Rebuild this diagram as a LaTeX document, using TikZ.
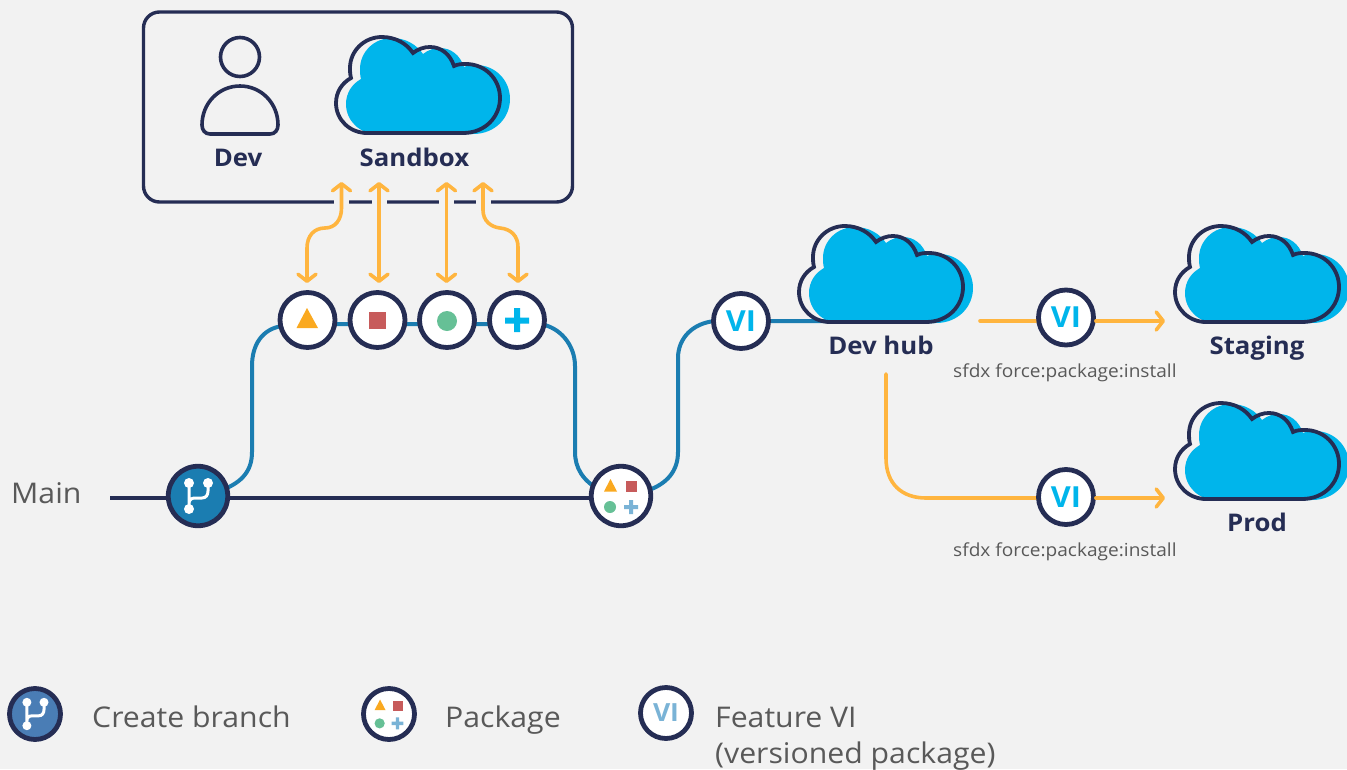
\documentclass[tikz,border=0pt]{standalone}
\usepackage{fontspec}
\setmainfont{Open Sans}[FakeStretch=1.06]
\usetikzlibrary{backgrounds,arrows.meta,shapes.geometric}
\definecolor{bgc}{HTML}{F2F2F2}
\definecolor{navy}{HTML}{252D54}
\definecolor{bluel}{HTML}{1B7DB1}
\definecolor{orangel}{HTML}{FFB53F}
\definecolor{cyanf}{HTML}{00B5EB}
\definecolor{tri}{HTML}{FAA920}
\definecolor{redq}{HTML}{C75B5B}
\definecolor{greenq}{HTML}{66C096}
\definecolor{lblue}{HTML}{7AB3D6}
\definecolor{legblue}{HTML}{4A7DB5}
\definecolor{greyt}{HTML}{595959}
\newcommand{\cloudshape}{(31,96) .. controls (14,96) and (0,83) .. (0,66) .. controls (0,55) and (6,46) .. (15,41) .. controls (14,37) and (14,34) .. (14,31) .. controls (14,14) and (28,0) .. (46,0) .. controls (60,0) and (71,7) .. (77,16) .. controls (82,12) and (88,10) .. (94,10) .. controls (105,10) and (114,17) .. (118,29) .. controls (122,27) and (126,27) .. (130,27) .. controls (149,27) and (164,42) .. (164,61) .. controls (164,80) and (149,96) .. (127,96) -- cycle}
\tikzset{
  x=1pt,y=-1pt,
  disc/.style={circle,draw=navy,line width=4.8pt,fill=white,minimum size=55pt,inner sep=0pt},
  bigdisc/.style={disc,minimum size=59.5pt},
  legdisc/.style={disc,minimum size=51pt},
  vitext/.style={text=cyanf,font=\fontsize{29}{29}\selectfont\bfseries},
  head/.style={text=navy,font=\fontsize{24.3}{24.3}\selectfont\bfseries,anchor=base},
  small/.style={text=greyt,font=\fontsize{18}{18}\selectfont,anchor=base west,inner sep=0pt},
  lab/.style={text=greyt,font=\fontsize{28.5}{28.5}\selectfont,anchor=base west,inner sep=0pt},
  orangeline/.style={draw=orangel,line width=3.6pt,line cap=round},
  chev/.style={-{Straight Barb[length=7pt,width=18pt,line width=3.6pt,round]}},
  chevv/.style={{Straight Barb[length=7pt,width=18pt,line width=3.6pt,round]}-{Straight Barb[length=7pt,width=18pt,line width=3.6pt,round]}},
  blueline/.style={draw=bluel,line width=4pt},
  mainline/.style={draw=navy,line width=4.8pt},
  gap/.style={draw=bgc,line width=15pt},
  cloudicon/.pic={
    \coordinate (-in) at (31,95);
    \fill[cyanf,shift={(10,1)}] \cloudshape;
    \draw[navy,line width=3.8pt,line join=miter] \cloudshape;
  },
  branchicon/.pic={
    \fill[white] (-9,-13) circle (5) (10,-13) circle (5) (-9,13) circle (5);
    \draw[white,line width=3pt] (-9,-13) -- (-9,13) (10,-13) -- (10,-5) .. controls (10,-1) and (8,2) .. (4,2) -- (-3,2) .. controls (-7,2) and (-9,4) .. (-9,8);
  },
  quadicon/.pic={
    \fill[tri] (-17,-4.5) -- (-10.5,-17) -- (-4,-4.5) -- cycle;
    \fill[redq] (5,-15) rectangle (16,-4);
    \fill[greenq] (-11,11) circle (6);
    \fill[lblue] (3,9) rectangle (17,13) (8,4) rectangle (12,18);
  },
}
\begin{document}
\begin{tikzpicture}
\useasboundingbox (0,0) rectangle (1347,769);
\begin{scope}[on background layer]
\fill[bgc] (0,0) rectangle (1347,769);
\end{scope}

% top box
\node[draw=navy,line width=3.4pt,rounded corners=16pt,minimum width=429pt,minimum height=190pt,inner sep=0pt] (devbox) at (358,107) {};
\coordinate (g1) at (341,202);
\coordinate (g2) at (379,202);
\coordinate (g3) at (446.5,202);
\coordinate (g4) at (483,202);
\foreach \g in {g1,g2,g3,g4} \draw[gap] ([yshift=-3pt]\g) -- ([yshift=3pt]\g);

% person
\draw[navy,line width=3.6pt] (240,57) circle (19.5);
\draw[navy,line width=3.6pt] (210,134) .. controls (205,134) and (202,130) .. (202,125) .. controls (202,103) and (219,86) .. (240,86) .. controls (261,86) and (278,103) .. (278,125) .. controls (278,130) and (275,134) .. (270,134) -- cycle;
\node[head] (devl) at (238,166) {Dev};

% clouds
\pic (sandbox) at (336,37) {cloudicon};
\node[head] (sandboxl) at (414.5,166) {Sandbox};
\pic (hub) at (799,226) {cloudicon};
\node[head] (hubl) at (881,354) {Dev hub};
\pic (staging) at (1175,226) {cloudicon};
\node[head] (stagingl) at (1257,354) {Staging};
\pic (prod) at (1175,403) {cloudicon};
\node[head] (prodl) at (1257,531) {Prod};

% package discs
\node[disc] (p1) at (307.5,320) {};
\node[disc] (p2) at (377.5,320) {};
\node[disc] (p3) at (447,320) {};
\node[disc] (p4) at (517,320) {};
\fill[tri] (296.5,328) -- (307,308) -- (318,328) -- cycle;
\fill[redq] (369,312) rectangle (386,329);
\fill[greenq] (447,321) circle (10);
\fill[cyanf] (505,317.5) rectangle (529,323.5) (514,308) rectangle (520,332);

% branch and merge
\node[bigdisc,fill=bluel] (branch) at (198,496) {};
\pic at (branch.center) {branchicon};
\node[bigdisc] (merge) at (621,496) {};
\pic at (merge.center) {quadicon};

% VI discs
\node[disc,vitext] (v1) at (741,321) {VI};
\node[disc,vitext] (v2) at (1066,317.5) {VI};
\node[disc,vitext] (v3) at (1066,497) {VI};

% main
\node[lab,anchor=base west] (mainl) at (11,503) {Main};
\coordinate (mainstart) at (110,498);

\begin{scope}[on background layer]
\draw[mainline] (mainstart) -- (branch.center |- mainstart) -- (merge.center |- mainstart);
\draw[blueline] (branch.center) ++(24,-6) .. controls (243,482) and (252,470) .. (252,452) -- (252,366) .. controls (252,345) and (262,329) .. (282,326) -- (300,324) -- (540,324) .. controls (560,327) and (575,345) .. (575,366) -- (575,452) .. controls (575,468) and (583,481) .. (600,490);
\draw[blueline] (merge.center) ++(25,-5) .. controls (668,484) and (678,470) .. (678,452) -- (678,358) .. controls (678,338) and (693,323) .. (715,321) -- (v1.center) -- (hub-in);
\end{scope}

% orange
\coordinate (o1a) at (307,283);
\coordinate (o1b) at (341.5,182);
\coordinate (o2a) at (379,283);
\coordinate (o2b) at (379,182);
\coordinate (o3a) at (446.5,283);
\coordinate (o3b) at (446.5,182);
\coordinate (o4a) at (518,283);
\coordinate (o4b) at (483,182);
\draw[orangeline,chevv] (o1a) -- (307,248) .. controls (307,236) and (314,228) .. (325,228) .. controls (335,228) and (341.5,220) .. (341.5,208) -- (o1b);
\draw[orangeline,chevv] (o2a) -- (o2b);
\draw[orangeline,chevv] (o3a) -- (o3b);
\draw[orangeline,chevv] (o4a) -- (518,247) .. controls (518,236) and (511,229) .. (500,228) .. controls (491,227) and (483,221) .. (483,210) -- (o4b);

\coordinate (s1) at (980,321);
\coordinate (e1) at (1165,321);
\coordinate (s2) at (886,374);
\coordinate (e2) at (1165,498);
\begin{scope}[on background layer]
\draw[orangeline] (s1) -- (v2.west |- s1);
\draw[orangeline] (s2) -- (886,458) .. controls (886,484) and (902,498) .. (926,498) -- (v3.center |- e2);
\end{scope}
\draw[orangeline,chev] (v2.east |- e1) -- (e1);
\draw[orangeline,chev] (v3.east |- e2) -- (e2);

\node[small] (t1) at (953,377) {sfdx force:package:install};
\node[small] (t2) at (953,556) {sfdx force:package:install};

% legend
\node[legdisc,fill=legblue] (lg1) at (35,714) {};
\pic[scale=.9] at (lg1.center) {branchicon};
\node[legdisc] (lg2) at (389,714) {};
\pic[scale=.85] at (lg2.center) {quadicon};
\node[legdisc,vitext,text=lblue,font=\fontsize{25}{25}\selectfont\bfseries] (lg3) at (666,713) {VI};
\fill[bgc] (694,680) rectangle (712,745);
\node[lab] (l1) at (92,727) {Create branch};
\node[lab] (l2) at (445,727) {Package};
\node[lab] (l3) at (715,727) {Feature VI};
\node[lab] (l4) at (715,763) {(versioned package)};
\end{tikzpicture}
\end{document}
